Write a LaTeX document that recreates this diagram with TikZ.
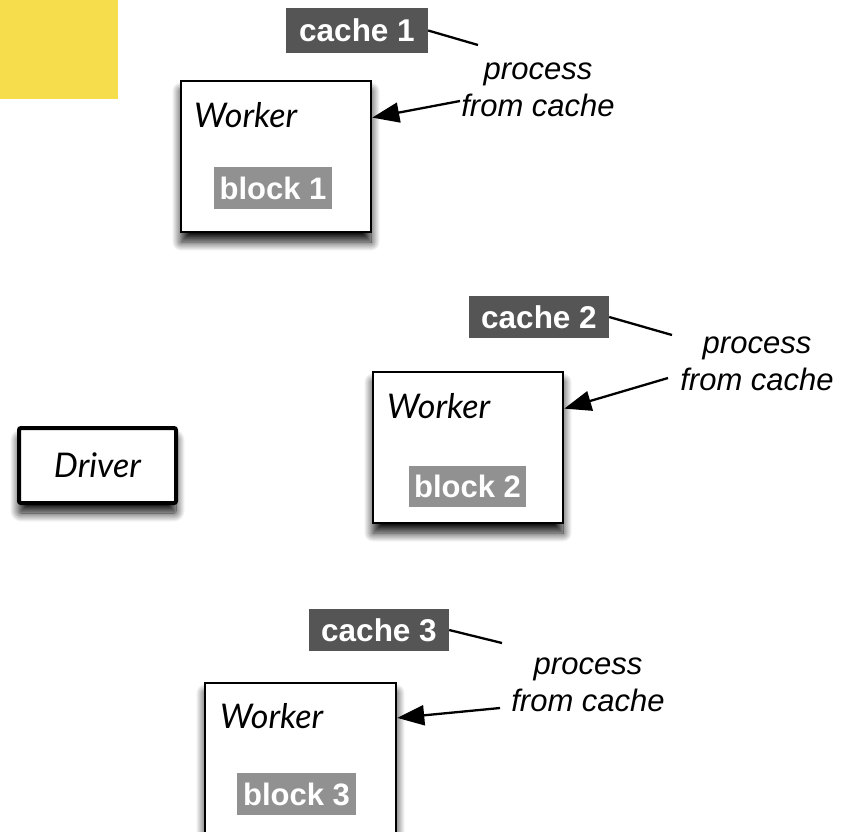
\documentclass[tikz,border=0pt]{standalone}
\usepackage{fontspec}
\setmainfont{Liberation Sans}
\newfontfamily\gill{Lato}
\usetikzlibrary{arrows.meta,shadows.blur}
\definecolor{yel}{RGB}{246,221,76}
\definecolor{cachegray}{RGB}{85,85,85}
\definecolor{blockgray}{RGB}{145,145,145}
\tikzset{
 box/.style={draw=black, line width=2.5pt, fill=white, inner sep=0pt,
   blur shadow={shadow xshift=0pt, shadow yshift=-10pt, shadow blur radius=9pt, shadow opacity=95, shadow blur steps=14}},
 cachebox/.style={fill=cachegray, text=white, inner sep=0pt, font=\fontsize{31.5}{36}\selectfont\bfseries},
 blockbox/.style={fill=blockgray, text=white, inner sep=0pt, font=\fontsize{31}{36}\selectfont\bfseries},
 wlabel/.style={inner sep=0pt, anchor=base west, font=\gill\itshape\fontsize{34}{40}\selectfont},
 note/.style={inner sep=0pt, align=center, font=\itshape\fontsize{31}{37}\selectfont},
 lead/.style={line width=2.3pt},
 pointer/.style={line width=2.3pt, -{Triangle[length=27pt,width=20pt]}},
}
\begin{document}
\begin{tikzpicture}[x=1pt,y=-1pt]
\useasboundingbox (0,0) rectangle (852,831);
\clip (0,0) rectangle (852,831);
\fill[yel] (0,0) rectangle (118,99);

% worker 1
\node[box, minimum width=190pt, minimum height=151pt] (w1) at (276,156.5) {};
\node[wlabel] (w1t) at (194,127) {Worker};
\node[blockbox, minimum width=118pt, minimum height=42pt] (b1) at (273,188) {block 1};
\node[cachebox, minimum width=142pt, minimum height=45pt] (c1) at (357,30.5) {cache 1};
\coordinate (l1) at (478,45);
\draw[lead] (c1.east) -- (l1);
\node[note] (p1) at (538,90) {process\\from cache};
\coordinate (a1) at (460,101);
\draw[pointer] (a1) -- (w1.22);

% driver
\node[box, line width=4pt, rounded corners=2pt, minimum width=157pt, minimum height=75pt, font=\gill\itshape\fontsize{34}{40}\selectfont] (d) at (97.5,465.5) {Driver};

% worker 2
\node[box, minimum width=190pt, minimum height=151pt] (w2) at (468,447.5) {};
\node[wlabel] (w2t) at (387,418) {Worker};
\node[blockbox, minimum width=117pt, minimum height=41pt] (b2) at (467.5,486.5) {block 2};
\node[cachebox, minimum width=140pt, minimum height=42pt] (c2) at (539,317) {cache 2};
\coordinate (l2) at (672,335);
\draw[lead] (c2.east) -- (l2);
\node[note] (p2) at (757,364) {process\\from cache};
\coordinate (a2) at (668,378);
\draw[pointer] (a2) -- (w2.22.6);

% worker 3
\node[box, minimum width=191pt, minimum height=160pt] (w3) at (300.5,763) {};
\node[wlabel] (w3t) at (220,728) {Worker};
\node[blockbox, minimum width=119pt, minimum height=42pt] (b3) at (296.5,794) {block 3};
\node[cachebox, minimum width=140pt, minimum height=42pt] (c3) at (379,630) {cache 3};
\coordinate (l3) at (502,643);
\draw[lead] (c3.east) -- (l3);
\node[note] (p3) at (588,685) {process\\from cache};
\coordinate (a3) at (500,708);
\draw[pointer] (a3) -- (w3.25);
\end{tikzpicture}
\end{document}
